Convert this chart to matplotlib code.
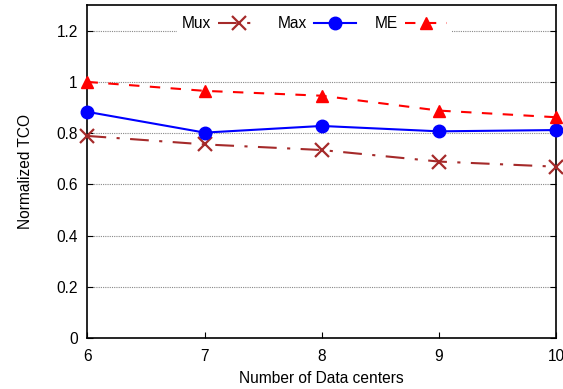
import matplotlib
matplotlib.use("Agg")
import matplotlib.pyplot as plt

plt.rcParams['font.family'] = ['Liberation Sans', 'DejaVu Sans']

centers = [6, 7, 8, 9, 10]
mux = [0.789, 0.756, 0.734, 0.689, 0.669]
maxv = [0.883, 0.802, 0.828, 0.807, 0.812]
me = [1.0, 0.965, 0.946, 0.888, 0.862]
yticks = [0, 0.2, 0.4, 0.6, 0.8, 1, 1.2]
ytick_labels = ['0', '0.2', '0.4', '0.6', '0.8', '1', '1.2']

fs = 11.2

fig = plt.figure(figsize=(5.63, 3.89), dpi=100)
ax = fig.add_axes([0.1554, 0.131, 0.8322, 0.856])

# dotted grid
for y in yticks[1:]:
    ax.axhline(y, color='#888888', ls=(0, (1, 1)), lw=0.8, zorder=1)

ax.plot(centers, mux, color='#a52a2a', ls=(0, (9, 5, 1.5, 5)), lw=1.5,
        marker='x', markersize=10, mew=1.6, label='Mux', zorder=3, clip_on=False)
ax.plot(centers, maxv, color='#0000ff', ls='-', lw=1.5,
        marker='o', markersize=9, label='Max', zorder=3, clip_on=False)
ax.plot(centers, me, color='#ff0000', ls=(0, (5, 5)), lw=1.5,
        marker='^', markersize=8, label='ME', zorder=3, clip_on=False)

ax.set_xlim(6, 10)
ax.set_ylim(0, 1.3)
ax.set_xticks(centers)
ax.set_yticks(yticks)
ax.set_yticklabels(ytick_labels)
ax.tick_params(direction='in', right=True, labelsize=fs, length=4)
ax.tick_params(axis='x', pad=8)
ax.tick_params(axis='y', pad=7)
for s in ax.spines.values():
    s.set_linewidth(1.2)

ax.set_xlabel('Number of Data centers', fontsize=fs, labelpad=5)
ax.set_ylabel('Normalized TCO', fontsize=fs, labelpad=17)

leg = ax.legend(loc='upper center', bbox_to_anchor=(0.484, 0.995), ncol=3,
                markerfirst=False, frameon=True, fontsize=fs, handlelength=2.7,
                columnspacing=1.2, handletextpad=0.45, borderaxespad=0.3,
                borderpad=0.3)
leg.get_frame().set_edgecolor('none')
leg.get_frame().set_facecolor('white')
leg.get_frame().set_alpha(1)
leg.set_zorder(5)

fig.savefig('out.png', dpi=100)
